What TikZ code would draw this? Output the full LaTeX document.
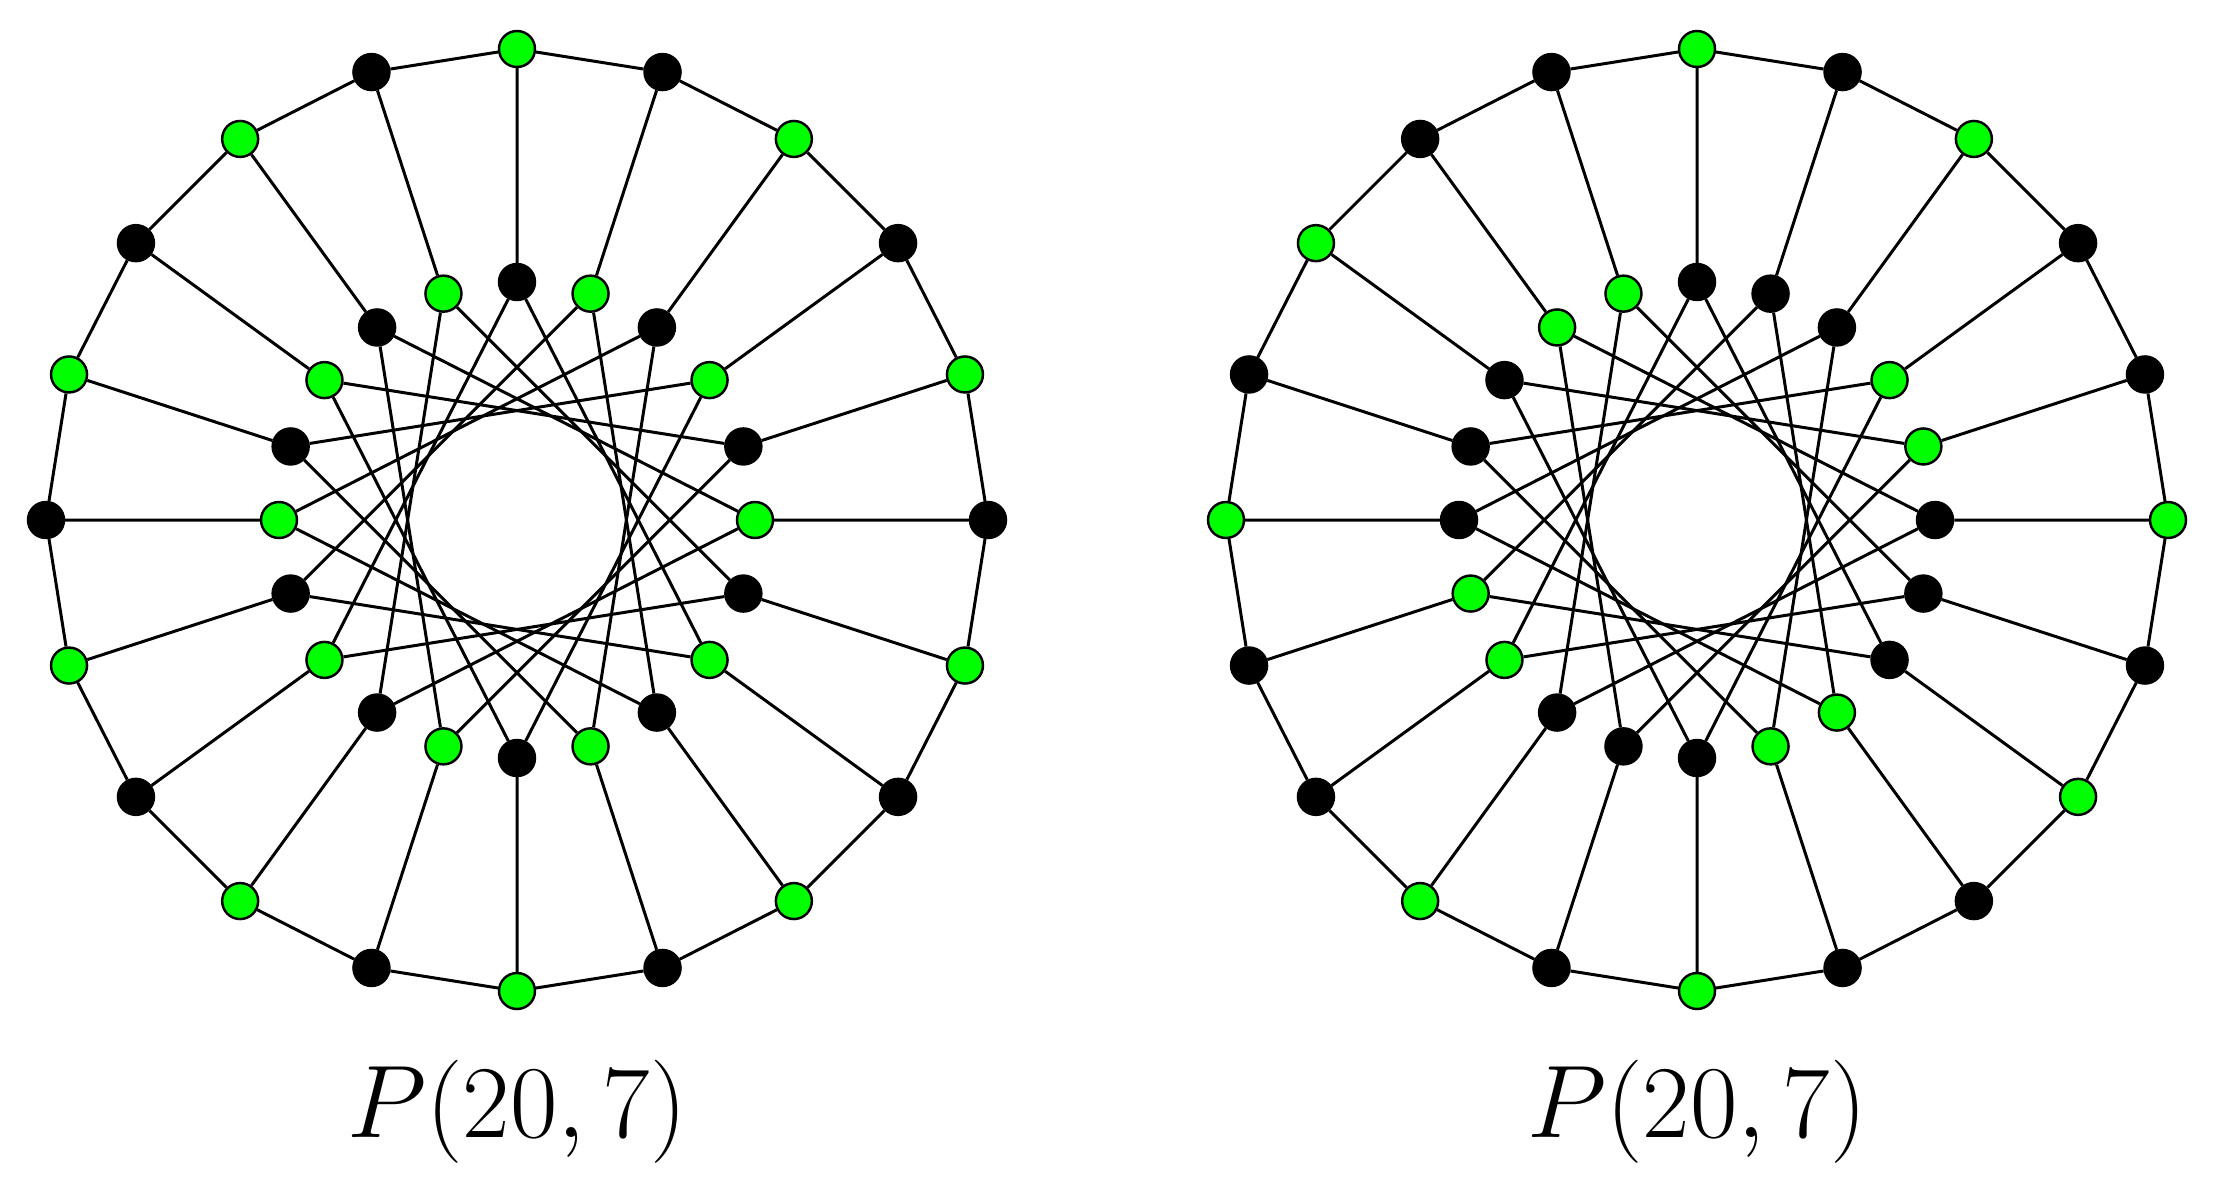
\documentclass[tikz,border=0pt]{standalone}
\usetikzlibrary{backgrounds}
\tikzset{
  vtx/.style={circle,draw=black,fill=black,line width=0.7pt,inner sep=0pt,minimum size=3.6mm},
  gvtx/.style={vtx,fill=green},
  edge/.style={line width=0.85pt},
  lab/.style={anchor=base,font=\fontsize{24.88}{30}\selectfont}
}
\begin{document}
\begin{tikzpicture}
\useasboundingbox (0,0) rectangle (22.17,11.88);
% left copy
\begin{scope}[shift={(5.17,6.68)}]
  \foreach \k in {0,...,19} {
    \pgfmathsetmacro{\ang}{90-18*\k}
    \ifodd\k
      \node[vtx] (a\k) at (\ang:4.71) {};
      \node[gvtx] (b\k) at (\ang:2.38) {};
    \else
      \node[gvtx] (a\k) at (\ang:4.71) {};
      \node[vtx] (b\k) at (\ang:2.38) {};
    \fi
  }
  \begin{scope}[on background layer]
    \foreach \k in {0,...,19} {
      \pgfmathtruncatemacro{\n}{mod(\k+1,20)}
      \pgfmathtruncatemacro{\s}{mod(\k+7,20)}
      \draw[edge] (a\k) -- (a\n) (a\k) -- (b\k) (b\k) -- (b\s);
    }
  \end{scope}
\end{scope}
% right copy
\begin{scope}[shift={(16.97,6.68)}]
  \foreach \k/\oc/\ic in {0/gvtx/vtx, 1/vtx/vtx, 2/gvtx/vtx, 3/vtx/gvtx, 4/vtx/gvtx,
      5/gvtx/vtx, 6/vtx/vtx, 7/gvtx/vtx, 8/vtx/gvtx, 9/vtx/gvtx,
      10/gvtx/vtx, 11/vtx/vtx, 12/gvtx/vtx, 13/vtx/gvtx, 14/vtx/gvtx,
      15/gvtx/vtx, 16/vtx/vtx, 17/gvtx/vtx, 18/vtx/gvtx, 19/vtx/gvtx} {
    \pgfmathsetmacro{\ang}{90-18*\k}
    \node[\oc] (c\k) at (\ang:4.71) {};
    \node[\ic] (d\k) at (\ang:2.38) {};
  }
  \begin{scope}[on background layer]
    \foreach \k in {0,...,19} {
      \pgfmathtruncatemacro{\n}{mod(\k+1,20)}
      \pgfmathtruncatemacro{\s}{mod(\k+7,20)}
      \draw[edge] (c\k) -- (c\n) (c\k) -- (d\k) (d\k) -- (d\s);
    }
  \end{scope}
\end{scope}
% labels
\node[lab] (labA) at (5.17,0.51) {\scalebox{1.18}{$P(20,7)$}};
\node[lab] (labB) at (16.97,0.51) {\scalebox{1.18}{$P(20,7)$}};
\end{tikzpicture}
\end{document}
